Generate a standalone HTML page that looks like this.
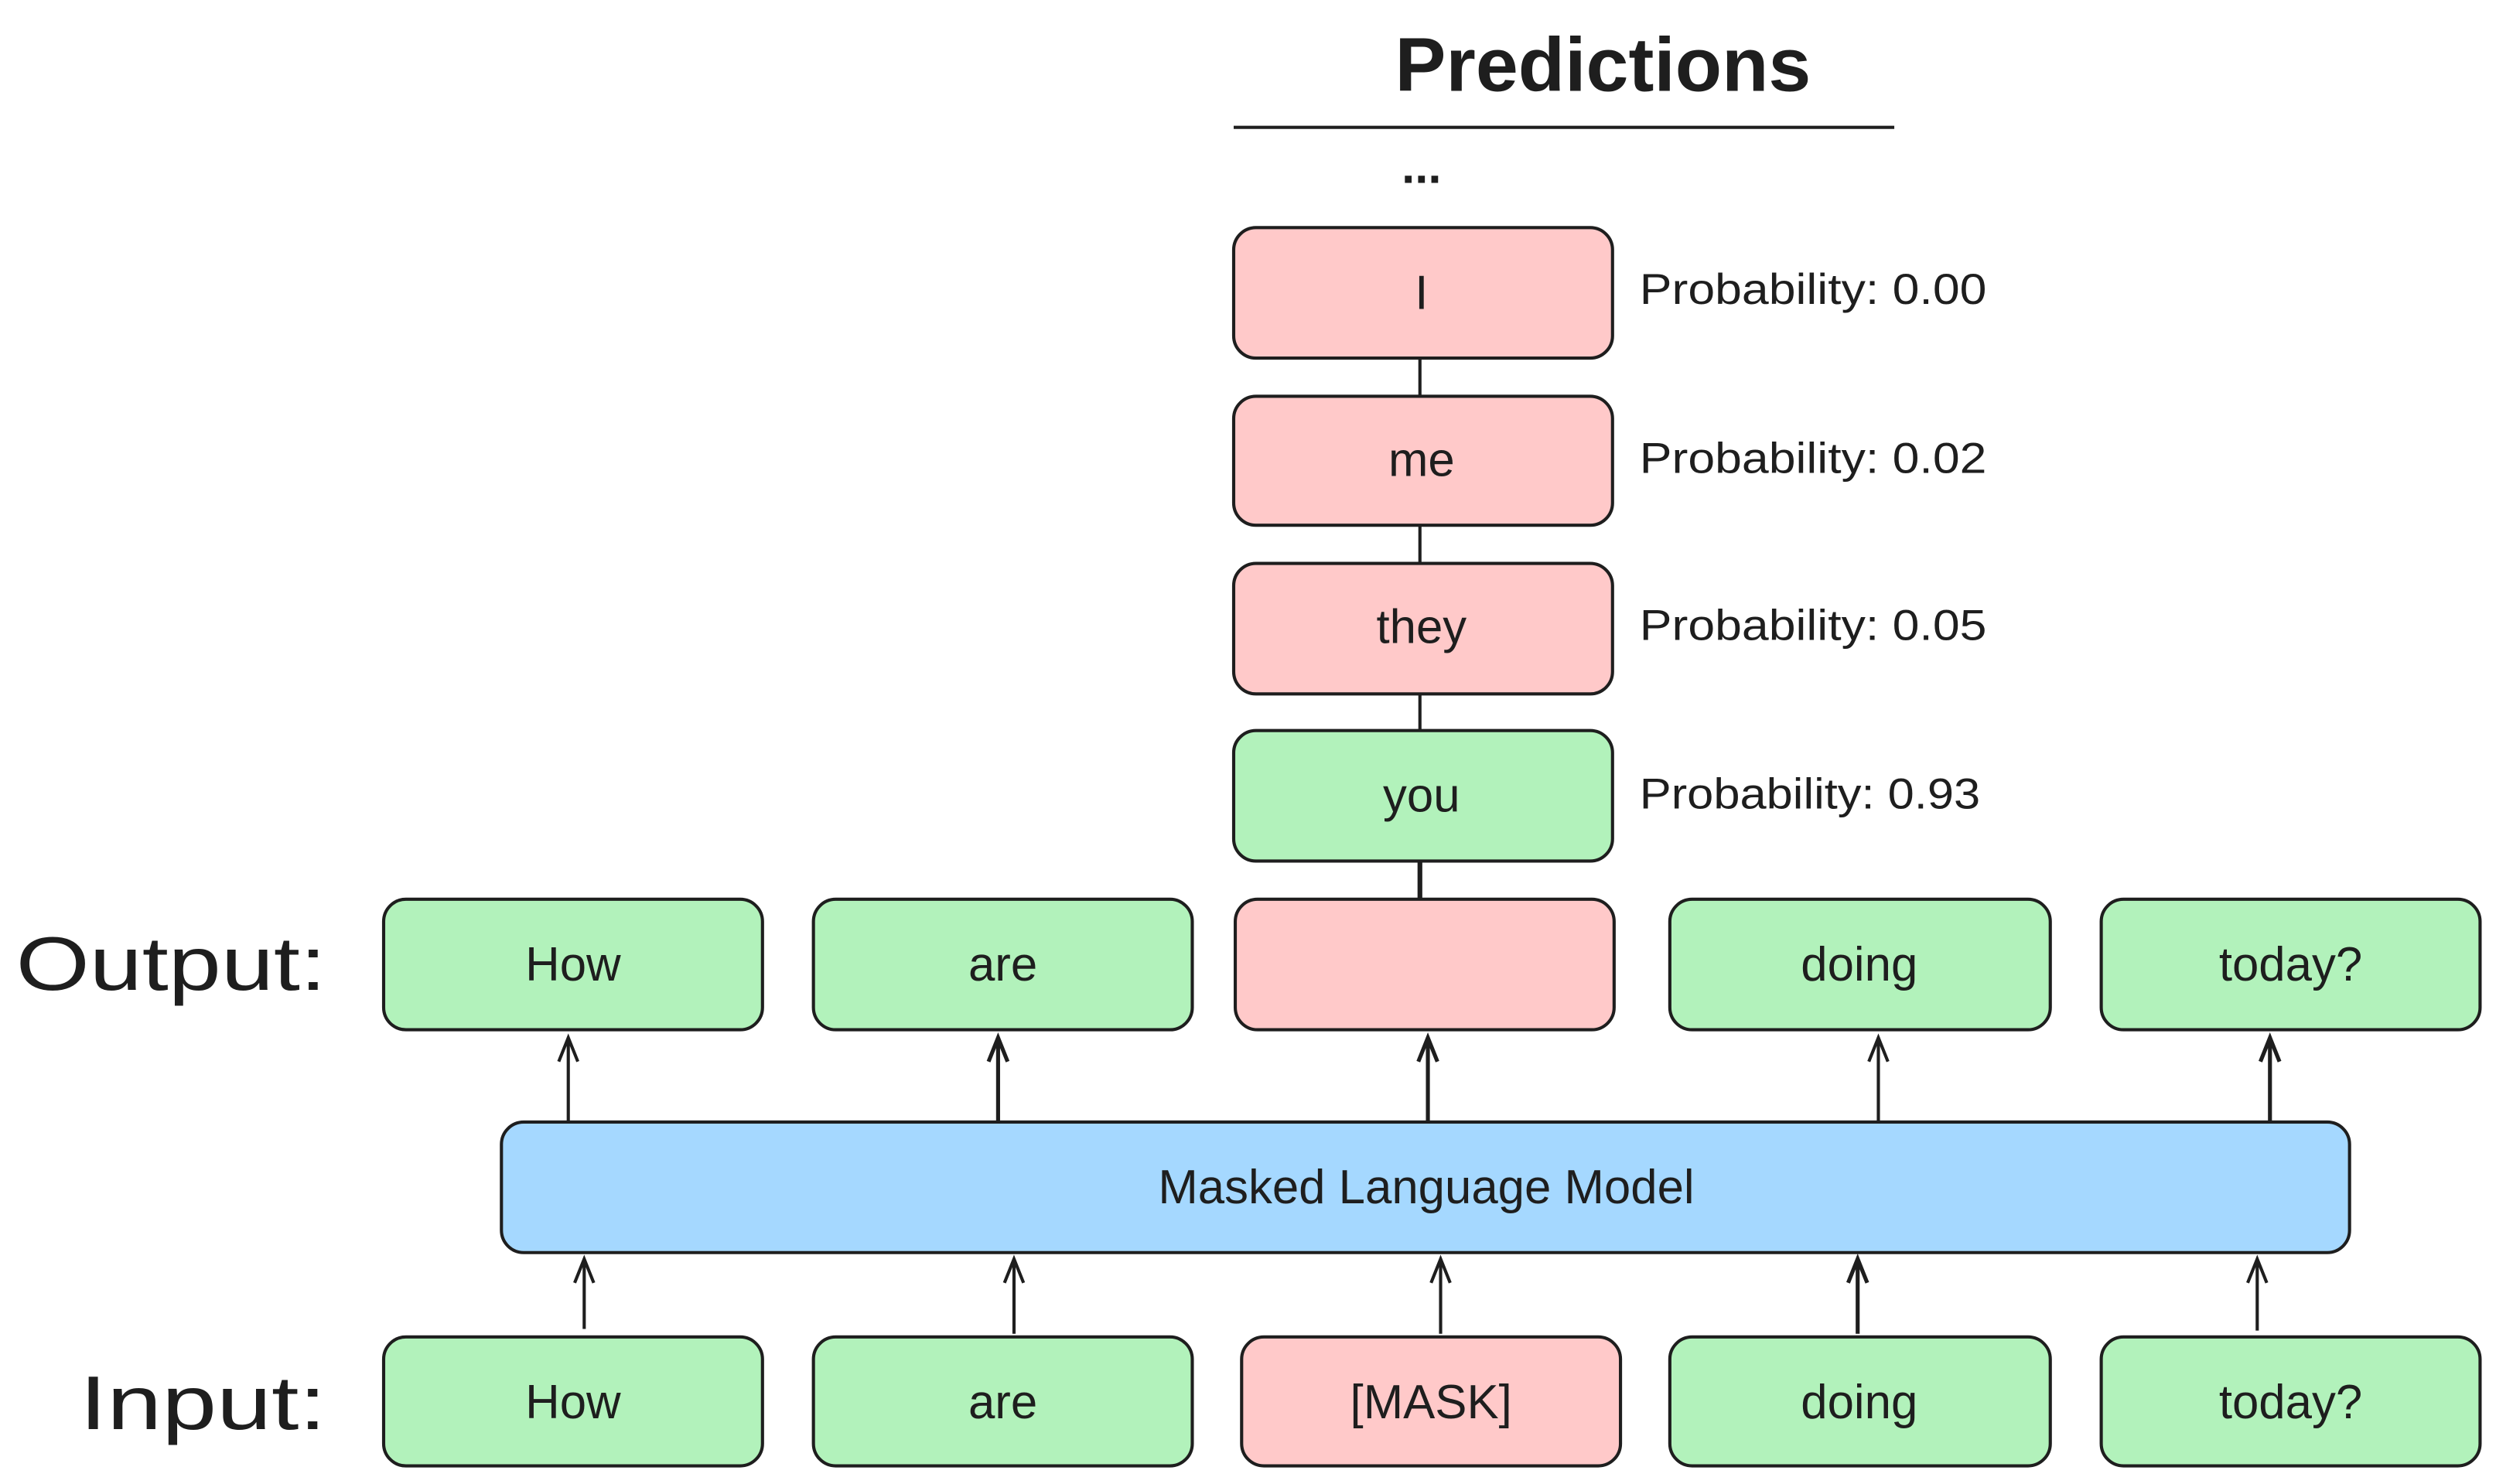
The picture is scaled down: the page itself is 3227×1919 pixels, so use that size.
<!DOCTYPE html>
<html><head><meta charset="utf-8"><style>
html,body{margin:0;padding:0;background:#fff;}
svg{display:block;}
text{font-family:"Liberation Sans",sans-serif;fill:#1e1e1e;}
</style></head><body>
<svg width="3227" height="1919" viewBox="0 0 1568 932.4" preserveAspectRatio="none" xmlns="http://www.w3.org/2000/svg">
<g stroke="#1e1e1e" stroke-width="2" fill="none">
<line x1="775" y1="80" x2="1190" y2="80"/>
<line x1="892" y1="225" x2="892" y2="249"/>
<line x1="892" y1="330" x2="892" y2="354"/>
<line x1="892" y1="436" x2="892" y2="459"/>
<line x1="892" y1="541" x2="892" y2="565" stroke-width="3"/>
<path d="M357 705V652M351 667L357 652L363 667"/>
<path d="M627 705V652M621 667L627 652L633 667" stroke-width="2.5"/>
<path d="M897 705V652M891 667L897 652L903 667" stroke-width="2.5"/>
<path d="M1180 705V652M1174 667L1180 652L1186 667"/>
<path d="M1426 705V652M1420 667L1426 652L1432 667" stroke-width="2.5"/>
<path d="M367 835V791M361 806L367 791L373 806"/>
<path d="M637 838V791M631 806L637 791L643 806"/>
<path d="M905 838V791M899 806L905 791L911 806"/>
<path d="M1167 838V791M1161 806L1167 791L1173 806" stroke-width="2.5"/>
<path d="M1418 836V791M1412 806L1418 791L1424 806"/>
</g>
<g stroke="#1e1e1e" stroke-width="2">
<rect x="775" y="143" width="238" height="82" rx="14" fill="#ffc9c9"/>
<rect x="775" y="249" width="238" height="81" rx="14" fill="#ffc9c9"/>
<rect x="775" y="354" width="238" height="82" rx="14" fill="#ffc9c9"/>
<rect x="775" y="459" width="238" height="82" rx="14" fill="#b2f2bb"/>
<rect x="241" y="565" width="238" height="82" rx="14" fill="#b2f2bb"/>
<rect x="511" y="565" width="238" height="82" rx="14" fill="#b2f2bb"/>
<rect x="776" y="565" width="238" height="82" rx="14" fill="#ffc9c9"/>
<rect x="1049" y="565" width="239" height="82" rx="14" fill="#b2f2bb"/>
<rect x="1320" y="565" width="238" height="82" rx="14" fill="#b2f2bb"/>
<rect x="315" y="705" width="1161" height="82" rx="14" fill="#a5d8ff"/>
<rect x="241" y="840" width="238" height="81" rx="14" fill="#b2f2bb"/>
<rect x="511" y="840" width="238" height="81" rx="14" fill="#b2f2bb"/>
<rect x="780" y="840" width="238" height="81" rx="14" fill="#ffc9c9"/>
<rect x="1049" y="840" width="239" height="81" rx="14" fill="#b2f2bb"/>
<rect x="1320" y="840" width="238" height="81" rx="14" fill="#b2f2bb"/>
</g>
<g text-anchor="middle" font-size="30">
<text x="1007" y="57" font-size="48" font-weight="bold">Predictions</text>
<text x="893" y="115" font-size="30" font-weight="bold">...</text>
<text x="893" y="194">I</text>
<text x="893" y="299">me</text>
<text x="893" y="404">they</text>
<text x="893" y="510">you</text>
<text x="360" y="616">How</text>
<text x="630" y="616">are</text>
<text x="1168" y="616">doing</text>
<text x="1439" y="616">today?</text>
<text x="896" y="756">Masked Language Model</text>
<text x="360" y="891">How</text>
<text x="630" y="891">are</text>
<text x="899" y="891">[MASK]</text>
<text x="1168" y="891">doing</text>
<text x="1439" y="891">today?</text>
</g>
<g font-size="27">
<text x="1030" y="191" textLength="218" lengthAdjust="spacingAndGlyphs">Probability: 0.00</text>
<text x="1030" y="297" textLength="218" lengthAdjust="spacingAndGlyphs">Probability: 0.02</text>
<text x="1030" y="402" textLength="218" lengthAdjust="spacingAndGlyphs">Probability: 0.05</text>
<text x="1030" y="508" textLength="214" lengthAdjust="spacingAndGlyphs">Probability: 0.93</text>
</g>
<text x="10" y="622" font-size="48" textLength="195" lengthAdjust="spacingAndGlyphs">Output:</text>
<text x="50" y="898" font-size="48" textLength="155" lengthAdjust="spacingAndGlyphs">Input:</text>
</svg>
</body></html>
